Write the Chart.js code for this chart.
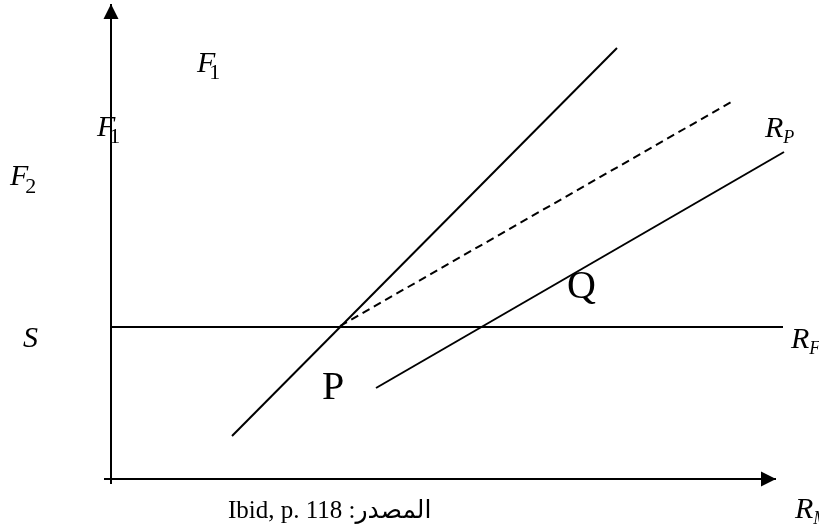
<!DOCTYPE html>
<html>
<head>
<meta charset="utf-8">
<script src="https://cdn.jsdelivr.net/npm/chart.js@4/dist/chart.umd.min.js"></script>
<style>
html, body { margin: 0; padding: 0; background: #fff; }
#wrap { width: 819px; height: 530px; }
</style>
</head>
<body>
<div id="wrap"><canvas id="diagram" width="819" height="530"></canvas></div>
<script>
// diagram units: origin where the two axes meet, y grows upwards
var axisHX = [-7, 665], axisHY = [0, 0];
var axisVX = [0, 0], axisVY = [-5, 475];
var rfX = [0, 672], rfY = [152, 152];          // S ... R_F
var steepX = [121, 506], steepY = [43, 431];    // line through P
var dashX = [229, 622], dashY = [153, 378];     // dashed continuation
var rpX = [265, 673], rpY = [91, 327];          // R_P line

// text on the figure
var labels = [
  { t: 'F', sub: '1', x: 86, y: 407, subDx: -6, subDy: -7 },
  { t: 'F', sub: '1', x: -14, y: 343, subDx: -6, subDy: -7 },
  { t: 'F', sub: '2', x: -101, y: 294, subDx: -3, subDy: -8 },
  { t: 'S', x: -88, y: 132 },
  { t: 'R', sub: 'F', x: 680, y: 131, subDx: 0, subDy: -6, subItalic: true },
  { t: 'R', sub: 'P', x: 654, y: 342, subDx: 0, subDy: -6, subItalic: true },
  { t: 'R', sub: 'M', x: 684, y: -39, subDx: 0, subDy: -6, subItalic: true },
  { t: 'Q', x: 456, y: 181, upright: true, size: 40 },
  { t: 'P', x: 211, y: 80, upright: true, size: 40 }
];
var source = 'Ibid, p. 118 :المصدر';

function pts(xs, ys) {
  return xs.map(function (x, i) { return { x: x, y: ys[i] }; });
}

function line(xs, ys, extra) {
  var ds = {
    data: pts(xs, ys),
    showLine: true,
    borderColor: '#000',
    borderWidth: 2,
    pointRadius: 0,
    fill: false,
    clip: false
  };
  for (var k in extra) ds[k] = extra[k];
  return ds;
}

var arrows = {
  id: 'arrows',
  afterDatasetsDraw: function (chart) {
    var ctx = chart.ctx;
    chart.data.datasets.forEach(function (ds, i) {
      if (!ds.arrow) return;
      var pts = chart.getDatasetMeta(i).data;
      var a = pts[pts.length - 2], b = pts[pts.length - 1];
      var ang = Math.atan2(b.y - a.y, b.x - a.x);
      var len = 15, half = 7.5;
      var bx = b.x - len * Math.cos(ang), by = b.y - len * Math.sin(ang);
      ctx.save();
      ctx.fillStyle = '#000';
      ctx.beginPath();
      ctx.moveTo(b.x, b.y);
      ctx.lineTo(bx + half * Math.sin(ang), by - half * Math.cos(ang));
      ctx.lineTo(bx - half * Math.sin(ang), by + half * Math.cos(ang));
      ctx.closePath();
      ctx.fill();
      ctx.restore();
    });
  }
};

var texts = {
  id: 'texts',
  afterDraw: function (chart) {
    var ctx = chart.ctx, sx = chart.scales.x, sy = chart.scales.y;
    ctx.save();
    ctx.fillStyle = '#000';
    ctx.textBaseline = 'alphabetic';
    labels.forEach(function (l) {
      var px = sx.getPixelForValue(l.x), py = sy.getPixelForValue(l.y);
      ctx.font = (l.upright ? '' : 'italic ') + (l.size || 30) + 'px "Liberation Serif"';
      ctx.fillText(l.t, px, py);
      if (l.sub) {
        var w = ctx.measureText(l.t).width;
        ctx.font = l.subItalic ? 'italic 18px "Liberation Serif"' : '22px "Liberation Serif"';
        ctx.fillText(l.sub, px + w + l.subDx, sy.getPixelForValue(l.y + l.subDy));
      }
    });
    ctx.font = '25px "Liberation Serif", "DejaVu Serif", "DejaVu Sans"';
    ctx.fillText(source, sx.getPixelForValue(117), sy.getPixelForValue(-39));
    ctx.restore();
  }
};

var ctx = document.getElementById('diagram').getContext('2d');
var chart = new Chart(ctx, {
  type: 'scatter',
  data: {
    datasets: [
      line(axisHX, axisHY, { arrow: true }),
      line(axisVX, axisVY, { arrow: true }),
      line(rfX, rfY),
      line(steepX, steepY),
      line(dashX, dashY, { borderDash: [8, 5] }),
      line(rpX, rpY)
    ]
  },
  options: {
    responsive: false,
    animation: false,
    devicePixelRatio: 1,
    layout: { padding: 0 },
    plugins: { legend: { display: false }, tooltip: { enabled: false } },
    scales: {
      x: { type: 'linear', display: false, min: -111, max: 708 },
      y: { type: 'linear', display: false, min: -51, max: 479 }
    }
  },
  plugins: [arrows, texts]
});
</script>
</body>
</html>
